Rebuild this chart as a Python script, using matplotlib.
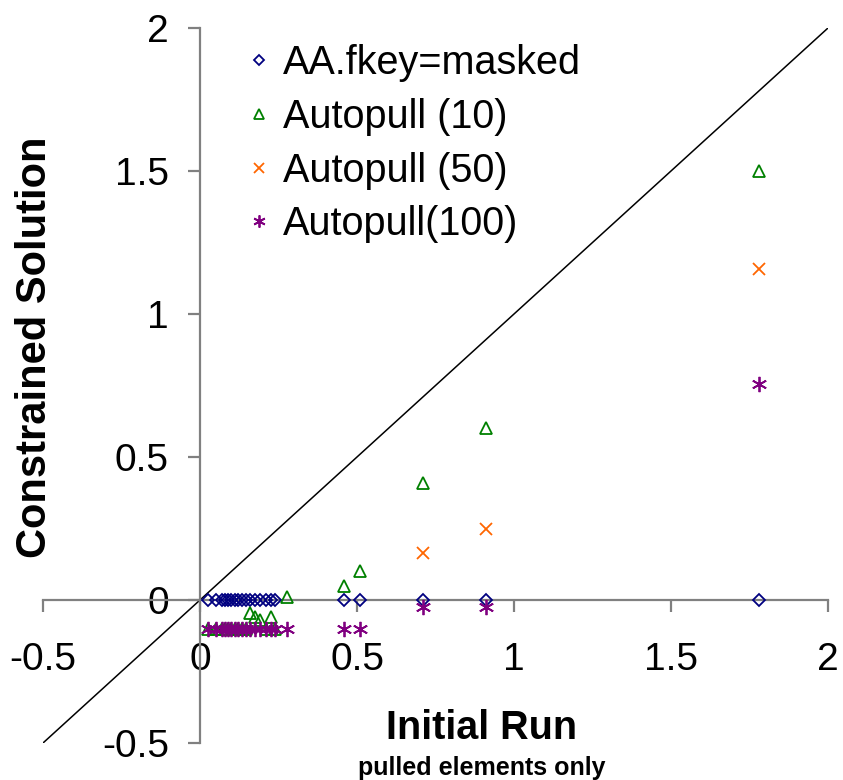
import numpy as np
import matplotlib.pyplot as plt

plt.rcParams['font.family'] = ['Liberation Sans', 'DejaVu Sans']

# initial run values (pulled elements only)
x_init = [0.025, 0.05, 0.07, 0.08, 0.09, 0.10, 0.11, 0.12, 0.135, 0.145,
          0.16, 0.175, 0.19, 0.21, 0.225, 0.24, 0.277, 0.46, 0.51, 0.71,
          0.91, 1.78]

# constrained solutions for each run (nan = not plotted)
nan = np.nan
y_masked = [0, 0, 0, 0, 0, 0, 0, 0, 0, 0,
            0, 0, 0, 0, 0, 0, nan, 0, 0, 0,
            0, 0]
y_auto10 = [-0.1, -0.1, -0.1, -0.1, -0.1, -0.1, -0.1, -0.1, -0.1, -0.1,
            -0.045, -0.06, -0.07, -0.1, -0.06, -0.1, 0.01, 0.05, 0.10, 0.41,
            0.60, 1.50]
y_auto50 = [nan, nan, nan, nan, nan, nan, nan, nan, nan, nan,
            nan, nan, nan, nan, nan, nan, nan, nan, nan, 0.165,
            0.25, 1.157]
y_auto100 = [-0.1, -0.1, -0.1, -0.1, -0.1, -0.1, -0.1, -0.1, -0.1, -0.1,
             -0.1, -0.1, -0.1, -0.1, -0.1, -0.1, -0.1, -0.1, -0.1, -0.025,
             -0.025, 0.755]

ticks = [-0.5, 0, 0.5, 1, 1.5, 2]
tick_labels = ['-0.5', '0', '0.5', '1', '1.5', '2']

fig = plt.figure(figsize=(8.43, 7.80), dpi=100)
ax = fig.add_axes([43 / 843, 37 / 780, 785 / 843, 715 / 780])
ax.set_xlim(-0.5, 2)
ax.set_ylim(-0.5, 2)

# y = x reference line
ax.plot([-0.5, 2], [-0.5, 2], color='black', lw=1.1, zorder=1)

ax.plot(x_init, y_masked, ls='none', marker='D', ms=6.5, mfc='none',
        mec='#000080', mew=1.3, label='AA.fkey=masked', zorder=3)
ax.plot(x_init, y_auto10, ls='none', marker='^', ms=8.5, mfc='none',
        mec='#008000', mew=1.3, label='Autopull (10)', zorder=3)
ax.plot(x_init, y_auto50, ls='none', marker='x', ms=8.5,
        mec='#FF6600', mew=1.3, label='Autopull (50)', zorder=3)
ax.plot(x_init, y_auto100, ls='none', marker=(6, 2, 0), ms=11,
        mec='#800080', mew=1.3, label='Autopull(100)', zorder=4)

for s in ['top', 'right']:
    ax.spines[s].set_visible(False)
ax.spines['left'].set_position(('data', 0))
ax.spines['bottom'].set_position(('data', 0))
for s in ['left', 'bottom']:
    ax.spines[s].set_color('#808080')
    ax.spines[s].set_linewidth(1.6)

ax.set_xticks(ticks)
ax.set_xticklabels(tick_labels)
ax.set_yticks(ticks)
ax.set_yticklabels(tick_labels)
ax.tick_params(axis='x', direction='out', length=8.5, width=1.6,
               color='#808080', labelsize=28, pad=22)
ax.tick_params(axis='y', direction='out', length=8.5, width=1.6,
               color='#808080', labelsize=28, pad=14)
ax.patch.set_visible(False)

leg = ax.legend(loc='upper left', bbox_to_anchor=(0.24, 1.0), frameon=False,
                fontsize=28.5, handlelength=0.6, handletextpad=0.3,
                labelspacing=0.4, markerscale=0.8, borderaxespad=0)

fig.text(35 / 843, 1 - 347 / 780, 'Constrained Solution', rotation=90,
         ha='center', va='center', fontsize=30, fontweight='bold')
fig.text(482 / 843, 1 - 728 / 780, 'Initial Run', ha='center', va='center',
         fontsize=28.5, fontweight='bold')
fig.text(482 / 843, 1 - 768 / 780, 'pulled elements only', ha='center',
         va='center', fontsize=18, fontweight='bold')

fig.savefig('out.png', dpi=100)
